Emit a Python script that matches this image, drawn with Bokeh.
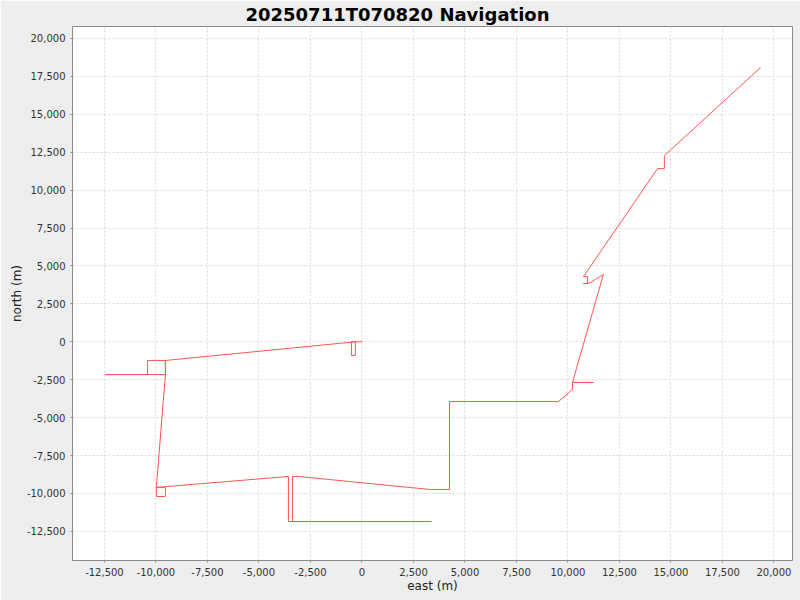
from bokeh.plotting import figure
from bokeh.models import SingleIntervalTicker, NumeralTickFormatter, Range1d
from bokeh.embed import file_html
from bokeh.resources import INLINE

# Navigation track (metres)
east = [20, -510, -510, -320, -320, -9540, -10410, -10410, -12450, -9540, -9540, -9540,
        -9980, -9980, -9540, -9540, -9980, -3570, -3570, 3370, -3370, -3370, -3080,
        3320, 4250, 4250, 9540, 10220, 10220, 11240, 10220, 11720, 11340, 11090, 10950,
        10750, 10950, 10950, 10750, 14350, 14680, 14680, 19350]
north = [0, 0, -900, -900, 0, -1230, -1230, -2160, -2160, -2160, -1230, -2160,
         -9600, -10200, -10200, -9600, -9600, -8880, -11850, -11850, -11850, -8880, -8880,
         -9740, -9740, -3940, -3940, -3140, -2680, -2680, -2680, 4440, 4110, 3910, 3840,
         3840, 3840, 4300, 4300, 11420, 11420, 12280, 18080]

title_text = "20250711T070820 Navigation"
x_label = "east (m)"
y_label = "north (m)"

p = figure(width=800, height=600, output_backend="svg", toolbar_location=None,
           x_range=Range1d(-14050, 20900), y_range=Range1d(-14420, 20790),
           min_border_left=72, min_border_right=8, min_border_top=26, min_border_bottom=40)

p.title.text = title_text
p.title.align = "left"
p.title.offset = 173
p.title.vertical_align = "top"
p.title.text_font = "DejaVu Sans"
p.title.text_font_size = "18px"
p.title.text_font_style = "bold"
p.title.text_color = "#000000"
p.title.text_line_height = 0.8
p.title.standoff = 0

p.background_fill_color = "#FFFFFF"
p.border_fill_color = "#EEEEEE"
p.outline_line_color = "#8A8A8A"

for ax in (p.xaxis[0], p.yaxis[0]):
    ax.ticker = SingleIntervalTicker(interval=2500)
    ax.formatter = NumeralTickFormatter(format="0,0")
    ax.major_label_text_font = "DejaVu Sans"
    ax.major_label_text_font_size = "10px"
    ax.major_label_text_color = "#333333"
    ax.axis_label_text_font = "DejaVu Sans"
    ax.axis_label_text_font_size = "12px"
    ax.axis_label_text_font_style = "normal"
    ax.axis_label_text_color = "#222222"
    ax.axis_line_color = "#8A8A8A"
    ax.major_tick_line_color = "#8A8A8A"
    ax.major_tick_in = 0
    ax.major_tick_out = 2
    ax.minor_tick_line_color = None
    ax.major_label_standoff = 3

p.xaxis.axis_label = x_label
p.yaxis.axis_label = y_label
p.xaxis.axis_label_standoff = 0
p.yaxis.axis_label_standoff = 0

p.grid.grid_line_color = "#D8D8D8"
p.grid.grid_line_dash = "2 2"
p.grid.grid_line_width = 1
p.xgrid.ticker = SingleIntervalTicker(interval=2500)
p.ygrid.ticker = SingleIntervalTicker(interval=2500)

p.line(east, north, line_color="#FF5555", line_width=1)

open("out.html", "w").write(file_html(p, INLINE))
